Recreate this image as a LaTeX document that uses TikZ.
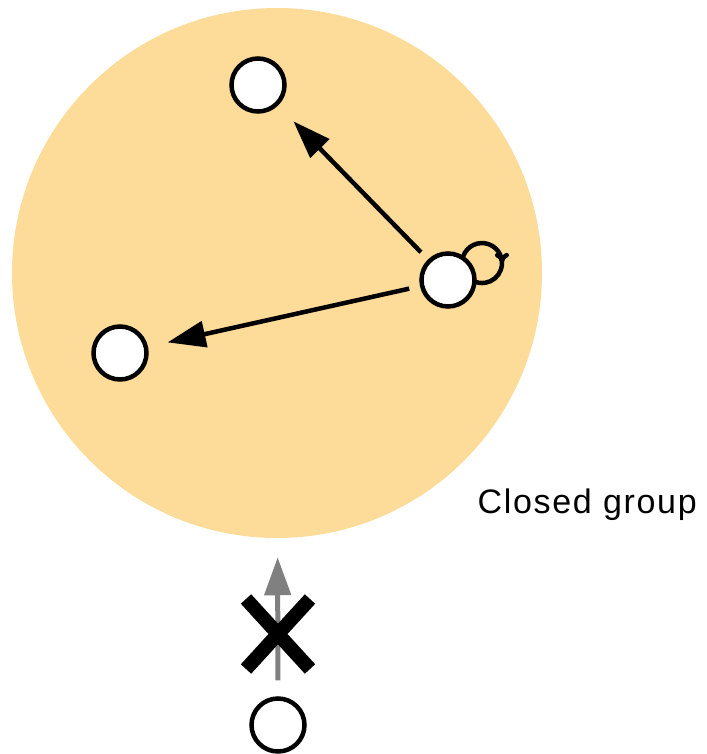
\documentclass[tikz,border=0pt]{standalone}
\usepackage{fontspec}
\setmainfont{Liberation Sans}
\usetikzlibrary{arrows.meta,decorations.markings,calc}
\definecolor{groupfill}{RGB}{253,219,153}
\tikzset{
  member/.style={circle, draw, fill=white, line width=4.5pt, minimum size=53pt, inner sep=0pt},
  group/.style={circle, fill=groupfill, minimum size=530pt, inner sep=0pt},
}
\begin{document}
\begin{tikzpicture}[x=1pt, y=-1pt, >={Triangle[length=38pt,width=26pt]}, line width=4.5pt]
\useasboundingbox (0,0) rectangle (706,754);
\pgfmathsetmacro\hx{448}
\pgfmathsetmacro\hy{280}
\node[group] (grp) at (277,273) {};
\node[anchor=base west, font=\fontsize{34}{40}\selectfont\addfontfeature{LetterSpace=5}] (lbl) at (472,513) {Closed group};
% self loop on the hub
\draw[decoration={markings, mark=at position 0.57 with {\arrow{To[length=10pt,width=14pt]}}}, postaction={decorate}]
  (\hx+34-18.8,\hy-17-6.8) arc[start angle=200, end angle=480, radius=20];
\node[member] (hub) at (\hx,\hy) {};
\node[member] (top) at (258,85) {};
\node[member] (left) at (120,353) {};
\node[member] (out) at (278,725) {};
\draw[->, shorten <=10pt, shorten >=22pt] (hub) -- (top);
\draw[->, shorten <=11pt, shorten >=20pt] (hub) -- (left);
% blocked join
\draw[gray, line width=5pt, ->, shorten <=16pt, shorten >=17pt] (out) -- (grp);
\coordinate (cross) at (278,634);
\draw[line width=14pt] ($(cross)+(-32,-35)$) -- ($(cross)+(32,35)$);
\draw[line width=14pt] ($(cross)+(32,-35)$) -- ($(cross)+(-32,35)$);
\end{tikzpicture}
\end{document}
